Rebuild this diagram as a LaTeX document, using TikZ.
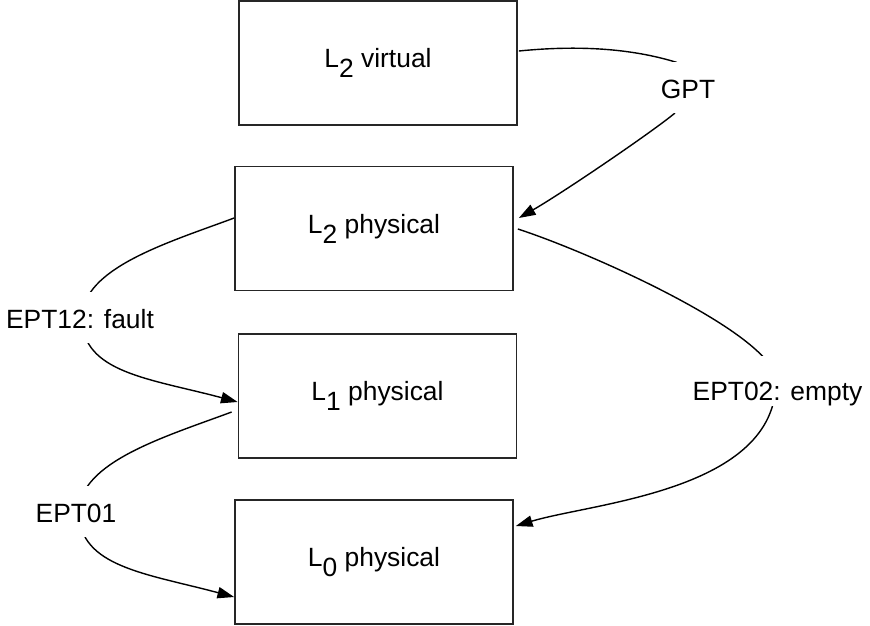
\documentclass[tikz,border=0pt]{standalone}
\usepackage{fontspec}
\setmainfont{Liberation Sans}
\usetikzlibrary{arrows.meta,calc}
\newcommand{\lowsub}[1]{\raisebox{-7.5pt}{#1}}
\begin{document}
\begin{tikzpicture}[x=0.75pt,y=-0.75pt,
  every node/.style={font=\fontsize{19.8pt}{24pt}\selectfont},
  levelbox/.style={draw=black!85, line width=1.3pt, minimum width=208.5pt, minimum height=93pt, inner sep=0pt},
  conn/.style={line width=1.05pt, -{Triangle[length=12.5pt,width=8.5pt]}},
  plainline/.style={line width=1.05pt},
  lbl/.style={fill=white, inner xsep=2pt, inner ysep=0pt, anchor=base, text height=27pt, text depth=11.25pt}
]
\useasboundingbox (0,0) rectangle (870,625);

% boxes
\node[levelbox] (l2v) at (378,63) {L\lowsub{2} virtual};
\node[levelbox] (l2p) at (374,228.5) {L\lowsub{2} physical};
\node[levelbox] (l1p) at (377.5,396) {L\lowsub{1} physical};
\node[levelbox] (l0p) at (374,562) {L\lowsub{0} physical};

% connector end points
\coordinate (gptS) at ($(l2v.east)+(1,-12)$);
\coordinate (gptA) at (677,62.5);
\coordinate (gptB) at (675,113);
\coordinate (gptT) at ($(l2p.east)+(5,-10.5)$);
\coordinate (e12S) at ($(l2p.west)+(0,-10.5)$);
\coordinate (e12M) at (82,318);
\coordinate (e12T) at ($(l1p.west)+(0,6)$);
\coordinate (e02S) at ($(l2p.east)+(4,0.5)$);
\coordinate (e02M) at (776,381);
\coordinate (e02T) at ($(l0p.east)+(2,-36)$);
\coordinate (e01S) at ($(l1p.west)+(-6,16)$);
\coordinate (e01M) at (79,512);
\coordinate (e01T) at ($(l0p.west)+(0,35)$);

% connectors
\draw[plainline] (gptS) .. controls +(60,-6) and +(-45,-14) .. (gptA);
\draw[conn] (gptB) .. controls +(-23.1,19.2) and +(43.5,-25) .. (gptT);

\draw[plainline] (e12S) .. controls +(-65.8,24.5) and +(0,-50) .. (e12M);
\draw[conn] (e12M) .. controls +(0,55) and +(-87.3,-23.4) .. (e12T);

\draw[plainline] (e02S) .. controls +(76,24.8) and +(0,-45) .. (e02M);
\draw[conn] (e02M) .. controls +(0,110) and +(76.5,-23.2) .. (e02T);

\draw[plainline] (e01S) .. controls +(-65.8,24.5) and +(0,-50) .. (e01M);
\draw[conn] (e01M) .. controls +(0,55) and +(-87.3,-23.4) .. (e01T);

% labels (mask the connectors they sit on)
\node[lbl] (gpt) at (688,98) {GPT};
\node[lbl] (e12) at (80,328) {EPT12: fault};
\node[lbl, text height=33pt, text depth=4.5pt] (e02) at (777.5,400) {EPT02: empty};
\node[lbl] (e01) at (76,522) {EPT01};
\end{tikzpicture}
\end{document}
